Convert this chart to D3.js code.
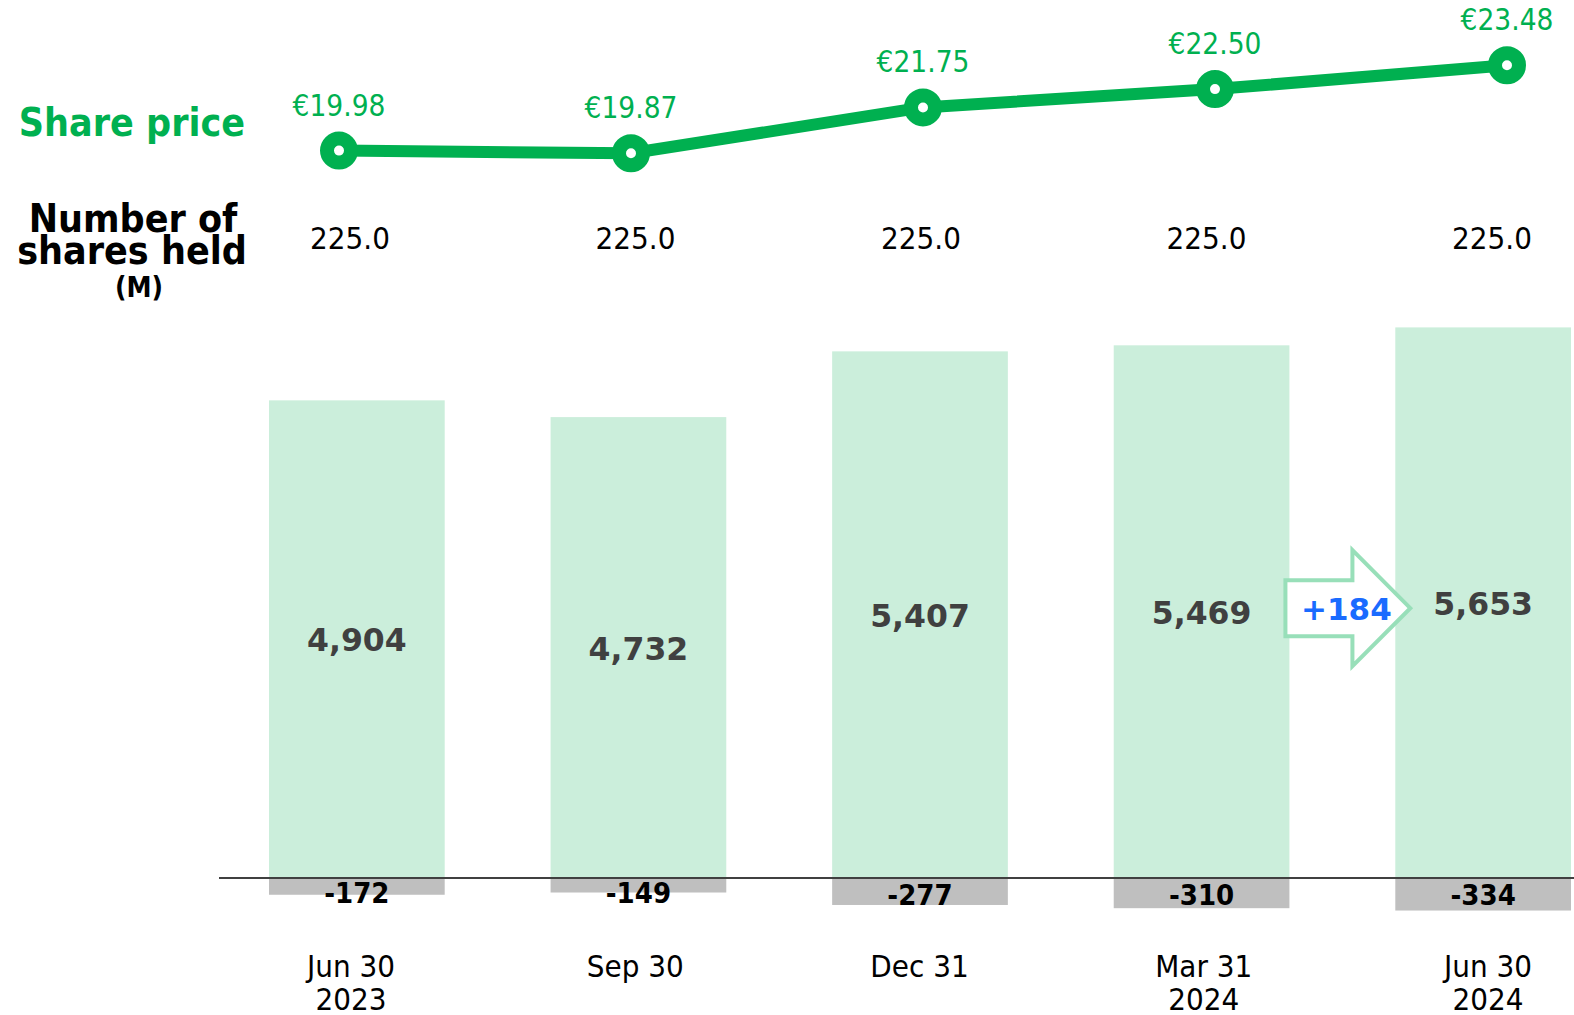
<!DOCTYPE html>
<html>
<head>
<meta charset="utf-8">
<script src="https://cdn.jsdelivr.net/npm/d3@7"></script>
<style>
	body { margin: 0; background: #fff; }
</style>
</head>
<body>
<script>
const categories = ["Jun 30\n2023", "Sep 30", "Dec 31", "Mar 31\n2024", "Jun 30\n2024"];
const sharePrices = [19.98, 19.87, 21.75, 22.50, 23.48];
const sharesHeld = [225.0, 225.0, 225.0, 225.0, 225.0];
const positiveValues = [4904, 4732, 5407, 5469, 5653];
const negativeValues = [-172, -149, -277, -310, -334];
const changeLabel = "+184";

const WIDTH = 1574;
const HEIGHT = 1015;

const GREEN = "#00b050";
const BAR_GREEN = "#cbeedb";
const BAR_GRAY = "#bfbfbf";
const ARROW_GREEN = "#98dfb9";
const CONDENSED = "'DejaVu Sans Condensed', 'DejaVu Sans', sans-serif";
const REGULAR = "'DejaVu Sans', Verdana, sans-serif";

const svg = d3.create("svg")
	.attr("width", WIDTH)
	.attr("height", HEIGHT);

// Scales
const x = d3.scaleBand()
	.domain(categories)
	.range([269, 1571])
	.paddingInner(0.376)
	.paddingOuter(0);

// top rows and the date labels sit on their own grids
const xPrice = d3.scalePoint()
	.domain(categories)
	.range([339, 1507]);

const xCount = d3.scalePoint()
	.domain(categories)
	.range([350, 1492]);

const xLabel = d3.scalePoint()
	.domain(categories)
	.range([351, 1488]);

const y = d3.scaleLinear()
	.domain([0, 6000])
	.range([878, 293.6]);

const yPrice = d3.scaleLinear()
	.domain([19.98, 23.48])
	.range([150.6, 65.2]);

const center = d => x(d) + x.bandwidth() / 2;

// Row titles
svg.append("text")
	.attr("x", 132)
	.attr("y", 136)
	.attr("text-anchor", "middle")
	.attr("font-family", CONDENSED)
	.attr("font-weight", "bold")
	.attr("font-size", "39px")
	.attr("fill", GREEN)
	.text("Share price");

const heldTitle = svg.append("text")
	.attr("text-anchor", "middle")
	.attr("font-family", CONDENSED)
	.attr("font-weight", "bold")
	.attr("fill", "#000");
heldTitle.append("tspan").attr("x", 133).attr("y", 232).attr("font-size", "39px").text("Number of");
heldTitle.append("tspan").attr("x", 132).attr("y", 264).attr("font-size", "39px").text("shares held");
heldTitle.append("tspan").attr("x", 139).attr("y", 297).attr("font-size", "28px").text("(M)");

// Bars
const barGroup = svg.append("g");

barGroup.selectAll(".pos-bar")
	.data(categories)
	.join("rect")
	.attr("class", "pos-bar")
	.attr("x", d => x(d))
	.attr("width", x.bandwidth())
	.attr("y", (d, i) => y(positiveValues[i]))
	.attr("height", (d, i) => y(0) - y(positiveValues[i]))
	.attr("fill", BAR_GREEN);

barGroup.selectAll(".neg-bar")
	.data(categories)
	.join("rect")
	.attr("class", "neg-bar")
	.attr("x", d => x(d))
	.attr("width", x.bandwidth())
	.attr("y", y(0))
	.attr("height", (d, i) => y(negativeValues[i]) - y(0))
	.attr("fill", BAR_GRAY);

// Baseline
svg.append("line")
	.attr("x1", 219)
	.attr("x2", WIDTH)
	.attr("y1", y(0))
	.attr("y2", y(0))
	.attr("stroke", "#404040")
	.attr("stroke-width", 2);

// Value labels
svg.append("g").selectAll("text")
	.data(categories)
	.join("text")
	.attr("x", d => center(d))
	.attr("y", (d, i) => (y(positiveValues[i]) + y(0)) / 2 + 1)
	.attr("text-anchor", "middle")
	.attr("dominant-baseline", "central")
	.attr("font-family", REGULAR)
	.attr("font-weight", "bold")
	.attr("font-size", "31.5px")
	.attr("fill", "#404040")
	.text((d, i) => d3.format(",")(positiveValues[i]));

svg.append("g").selectAll("text")
	.data(categories)
	.join("text")
	.attr("x", d => center(d))
	.attr("y", (d, i) => y(0) + 15 + (negativeValues[i] < -250 ? 2 : 0))
	.attr("text-anchor", "middle")
	.attr("dominant-baseline", "central")
	.attr("font-family", CONDENSED)
	.attr("font-weight", "bold")
	.attr("font-size", "29px")
	.attr("fill", "#000")
	.text((d, i) => negativeValues[i]);

// Category labels
const catLabels = svg.append("g").selectAll("text")
	.data(categories)
	.join("text")
	.attr("text-anchor", "middle")
	.attr("font-family", CONDENSED)
	.attr("font-size", "31px")
	.attr("fill", "#000");

catLabels.each(function (d) {
	const lines = d.split("\n");
	d3.select(this).selectAll("tspan")
		.data(lines)
		.join("tspan")
		.attr("x", xLabel(d))
		.attr("y", (l, i) => 977 + i * 33)
		.text(l => l);
});

// Shares held row
svg.append("g").selectAll("text")
	.data(categories)
	.join("text")
	.attr("x", d => xCount(d))
	.attr("y", 249)
	.attr("text-anchor", "middle")
	.attr("font-family", CONDENSED)
	.attr("font-size", "31px")
	.attr("fill", "#000")
	.text((d, i) => sharesHeld[i].toFixed(1));

// Share price line
const priceData = categories.map((c, i) => ({ cat: c, value: sharePrices[i] }));

svg.append("path")
	.datum(priceData)
	.attr("fill", "none")
	.attr("stroke", GREEN)
	.attr("stroke-width", 12)
	.attr("d", d3.line()
		.x(d => xPrice(d.cat))
		.y(d => yPrice(d.value))
	);

svg.append("g").selectAll("circle")
	.data(priceData)
	.join("circle")
	.attr("cx", d => xPrice(d.cat))
	.attr("cy", d => yPrice(d.value))
	.attr("r", 12)
	.attr("fill", "#fff")
	.attr("stroke", GREEN)
	.attr("stroke-width", 14);

svg.append("g").selectAll("text")
	.data(priceData)
	.join("text")
	.attr("x", d => xPrice(d.cat))
	.attr("y", d => yPrice(d.value) - 45)
	.attr("text-anchor", "middle")
	.attr("dominant-baseline", "central")
	.attr("font-family", CONDENSED)
	.attr("font-size", "29.5px")
	.attr("fill", GREEN)
	.text(d => "€" + d.value.toFixed(2));

// Change arrow between the last two bars
const c4 = categories[3];
const c5 = categories[4];
const arrowLeft = x(c4) + x.bandwidth() - 4;
const arrowNeck = arrowLeft + 67;
const arrowTip = x(c5) + 15;
const arrowY = ((y(positiveValues[3]) + y(0)) / 2 + (y(positiveValues[4]) + y(0)) / 2) / 2 + 1;
const bodyHalf = 28;
const headHalf = 58;

svg.append("path")
	.attr("d", `M${arrowLeft},${arrowY - bodyHalf}
		H${arrowNeck} V${arrowY - headHalf}
		L${arrowTip},${arrowY}
		L${arrowNeck},${arrowY + headHalf}
		V${arrowY + bodyHalf} H${arrowLeft} Z`)
	.attr("fill", "#fff")
	.attr("stroke", ARROW_GREEN)
	.attr("stroke-width", 4);

svg.append("text")
	.attr("x", arrowLeft + 61)
	.attr("y", arrowY + 1)
	.attr("text-anchor", "middle")
	.attr("dominant-baseline", "central")
	.attr("font-family", REGULAR)
	.attr("font-weight", "bold")
	.attr("font-size", "31px")
	.attr("fill", "#1a6bff")
	.text(changeLabel);

document.body.appendChild(svg.node());
</script>
</body>
</html>
